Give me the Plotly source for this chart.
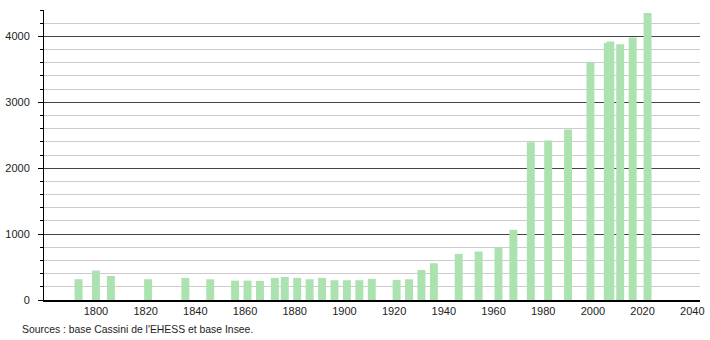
import plotly.graph_objects as go

years = [1793, 1800, 1806, 1821, 1836, 1846, 1856, 1861, 1866, 1872, 1876, 1881,
         1886, 1891, 1896, 1901, 1906, 1911, 1921, 1926, 1931, 1936, 1946, 1954,
         1962, 1968, 1975, 1982, 1990, 1999, 2006, 2007, 2011, 2016, 2022]
population = [315, 446, 365, 315, 335, 315, 294, 294, 290, 335, 350, 335,
              315, 335, 300, 300, 300, 320, 304, 314, 456, 558, 700, 735,
              802, 1065, 2394, 2420, 2588, 3602, 3900, 3921, 3881, 3982, 4353]
x_ticks = list(range(1800, 2041, 20))
source_text = "Sources : base Cassini de l'EHESS et base Insee."

fig = go.Figure()
fig.add_trace(go.Bar(
    x=years, y=population, width=3.2,
    marker=dict(color="rgb(172,226,176)", line=dict(width=0)),
    hoverinfo="x+y",
))

font = "Liberation Sans, Arial, sans-serif"
fig.update_layout(
    width=710, height=340,
    margin=dict(l=44, r=10, t=10, b=40, autoexpand=False),
    plot_bgcolor="white", paper_bgcolor="white",
    showlegend=False,
    font=dict(family=font, size=11, color="#222"),
    xaxis=dict(
        range=[1779.1, 2043.1], automargin=False,
        tickmode="array", tickvals=x_ticks,
        showgrid=False, zeroline=False,
        showline=True, linecolor="black", linewidth=1.5,
        ticks="", tickfont=dict(size=11, color="#222"),
    ),
    yaxis=dict(
        range=[0, 4400], automargin=False,
        dtick=1000, tick0=0,
        showgrid=True, gridcolor="#444", gridwidth=1,
        zeroline=False,
        showline=True, linecolor="black", linewidth=1,
        ticks="outside", ticklen=5, tickcolor="black",
        tickfont=dict(size=11, color="#222"),
        ticklabelstandoff=6,
        minor=dict(dtick=200, showgrid=True, gridcolor="#cccccc", gridwidth=1,
                   ticks="outside", ticklen=3, tickcolor="black"),
        layer="below traces",
    ),
    annotations=[dict(
        text=source_text, xref="paper", yref="paper",
        x=-0.0366, y=-0.1, xanchor="left", yanchor="middle",
        showarrow=False, font=dict(size=10.4, color="#222", family=font),
    )],
)

fig.write_html("out.html")
